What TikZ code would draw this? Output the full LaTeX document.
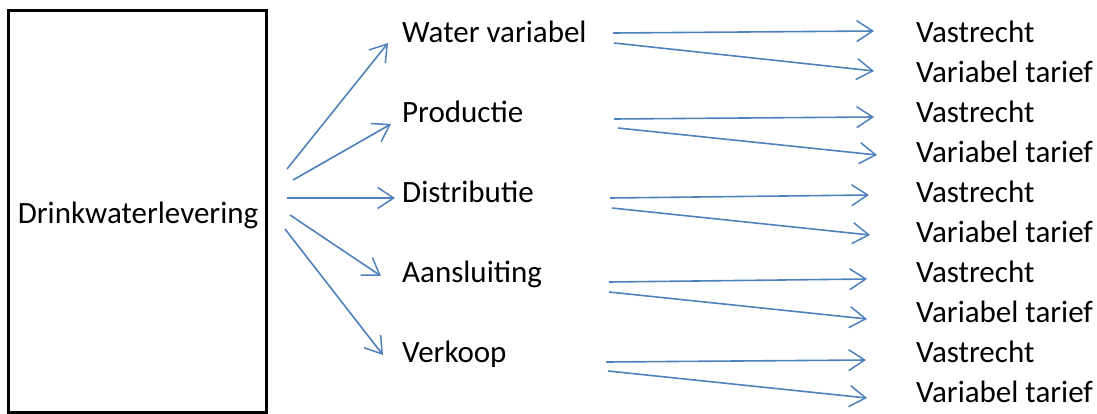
\documentclass[tikz,border=0pt]{standalone}
\usepackage{fontspec}
\setmainfont{Carlito}
\usetikzlibrary{arrows.meta}
\definecolor{arrblue}{RGB}{79,129,189}
\tikzset{
  lbl/.style={anchor=base west, inner sep=0pt, font=\fontsize{31}{37}\selectfont, text=black},
  conn/.style={draw=arrblue, line width=1.6pt, -{Straight Barb[length=16pt,width=21pt,line width=1.5pt]}},
}
\begin{document}
\begin{tikzpicture}[x=1pt,y=-1pt]
\useasboundingbox (0,0) rectangle (1097,413);
% main box
\draw[line width=3pt] (8.5,10) rectangle (266,412);
\node[anchor=base, inner sep=0pt, font=\fontsize{31}{37}\selectfont] (dw) at (138,223) {Drinkwaterlevering};
% middle labels
\node[lbl] (m1) at (402,42) {Water variabel};
\node[lbl] (m2) at (402,122) {Productie};
\node[lbl] (m3) at (402,202) {Distributie};
\node[lbl] (m4) at (402,282) {Aansluiting};
\node[lbl] (m5) at (402,362) {Verkoop};
% right labels
\foreach \i/\y in {1/42,2/122,3/202,4/282,5/362}{
  \node[lbl] (v\i) at (916,\y) {Vastrecht};
  \node[lbl] (t\i) at (916,\y+40) {Variabel tarief};
}
% connector end points
\coordinate (s1) at (287,169); \coordinate (e1) at (388,43);
\coordinate (s2) at (293,180); \coordinate (e2) at (391,124);
\coordinate (s3) at (287,198); \coordinate (e3) at (395,198);
\coordinate (s4) at (290,215); \coordinate (e4) at (381,276);
\coordinate (s5) at (285,229); \coordinate (e5) at (383,355);
\foreach \i in {1,...,5}{\draw[conn] (s\i) -- (e\i);}
% right connectors
\coordinate (a1) at (613,33);  \coordinate (b1) at (874,31);
\coordinate (c1) at (614,43);  \coordinate (d1) at (874,71);
\coordinate (a2) at (614,119); \coordinate (b2) at (874,117);
\coordinate (c2) at (618,128); \coordinate (d2) at (877,155);
\coordinate (a3) at (610,198); \coordinate (b3) at (869,195);
\coordinate (c3) at (612,208); \coordinate (d3) at (870,235);
\coordinate (a4) at (609,282); \coordinate (b4) at (867,279);
\coordinate (c4) at (609,292); \coordinate (d4) at (867,319);
\coordinate (a5) at (606,362); \coordinate (b5) at (866,360);
\coordinate (c5) at (608,371); \coordinate (d5) at (867,398);
\foreach \i in {1,...,5}{
  \draw[conn] (a\i) -- (b\i);
  \draw[conn] (c\i) -- (d\i);
}
\end{tikzpicture}
\end{document}
